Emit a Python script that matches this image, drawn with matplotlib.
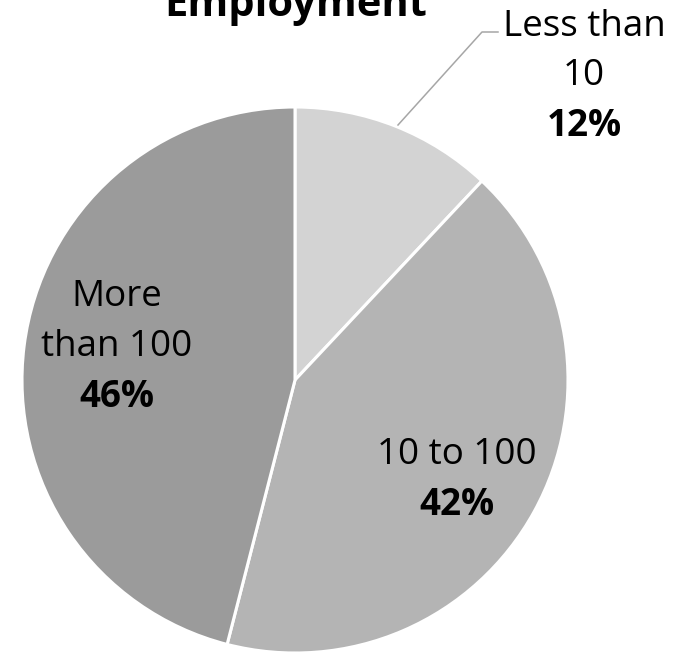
import matplotlib
matplotlib.use('Agg')
import matplotlib.pyplot as plt

plt.rcParams['font.family'] = ['Open Sans', 'DejaVu Sans']

categories = ['Less than 10', '10 to 100', 'More than 100']
shares = [12, 42, 46]
colors = ['#d3d3d3', '#b4b4b4', '#9b9b9b']
title = 'Employment'

# pixel geometry of the reference
W, H = 675, 655
cx, cy, R = 295, 380, 273

def px(x, y):
    return (x - cx) / R, (cy - y) / R

fig = plt.figure(figsize=(W / 100, H / 100), dpi=100)
ax = fig.add_axes([0, 0, 1, 1])
ax.pie(shares, colors=colors, startangle=90, counterclock=False, radius=1,
       wedgeprops=dict(edgecolor='white', linewidth=2.2))
ax.set_xlim(-cx / R, (W - cx) / R)
ax.set_ylim(-(H - cy) / R, cy / R)
ax.set_aspect('auto')
ax.axis('off')

fs = 26.5
# title (cut at the top, like the reference)
ax.text(*px(296, 16), title, ha='center', va='baseline', fontsize=30, fontweight='bold')

# labels
lab_less = ['Less than', '10']
for i, line in enumerate(lab_less):
    ax.text(*px(584, 27 + 49 * i), line, ha='center', va='center', fontsize=fs)
ax.text(*px(584, 126), f'{shares[0]}%', ha='center', va='center', fontsize=fs, fontweight='bold')

ax.text(*px(457, 455), '10 to 100', ha='center', va='center', fontsize=fs)
ax.text(*px(457, 505), f'{shares[1]}%', ha='center', va='center', fontsize=fs, fontweight='bold')

for i, line in enumerate(['More', 'than 100']):
    ax.text(*px(117, 297 + 50 * i), line, ha='center', va='center', fontsize=fs)
ax.text(*px(117, 397), f'{shares[2]}%', ha='center', va='center', fontsize=fs, fontweight='bold')

# leader line for the small slice
lx = [px(398, 125)[0], px(482, 32)[0], px(498, 32)[0]]
ly = [px(398, 125)[1], px(482, 32)[1], px(498, 32)[1]]
ax.plot(lx, ly, color='#a6a6a6', linewidth=1.1)

fig.savefig('out.png', dpi=100)
